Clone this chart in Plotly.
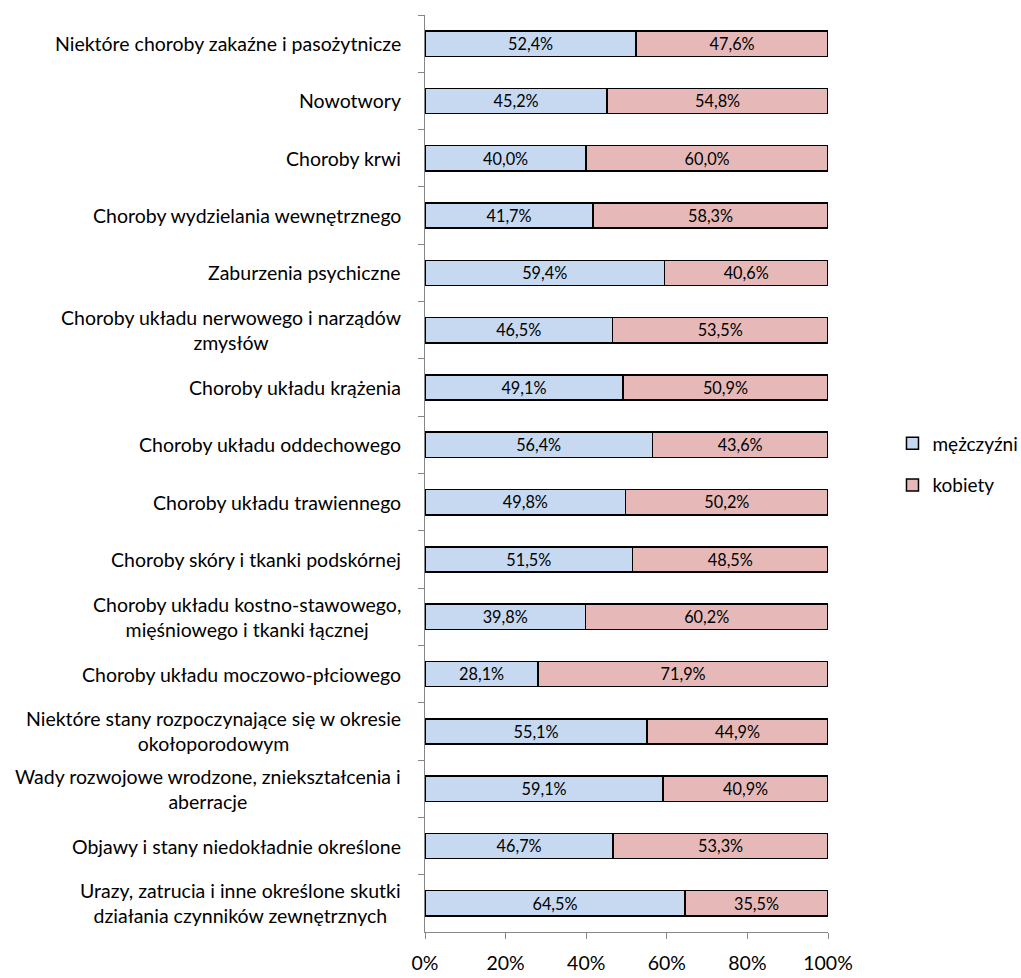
import plotly.graph_objects as go

categories = [
    "Niektóre choroby zakaźne i pasożytnicze",
    "Nowotwory",
    "Choroby krwi",
    "Choroby wydzielania wewnętrznego",
    "Zaburzenia psychiczne",
    "Choroby układu nerwowego i narządów<br>zmysłów",
    "Choroby układu krążenia",
    "Choroby układu oddechowego",
    "Choroby układu trawiennego",
    "Choroby skóry i tkanki podskórnej",
    "Choroby układu kostno-stawowego,<br>mięśniowego i tkanki łącznej",
    "Choroby układu moczowo-płciowego",
    "Niektóre stany rozpoczynające się w okresie<br>okołoporodowym",
    "Wady rozwojowe wrodzone, zniekształcenia i<br>aberracje",
    "Objawy i stany niedokładnie określone",
    "Urazy, zatrucia i inne określone skutki<br>działania czynników zewnętrznych",
]
men = [52.4, 45.2, 40.0, 41.7, 59.4, 46.5, 49.1, 56.4, 49.8, 51.5, 39.8, 28.1, 55.1, 59.1, 46.7, 64.5]
women = [47.6, 54.8, 60.0, 58.3, 40.6, 53.5, 50.9, 43.6, 50.2, 48.5, 60.2, 71.9, 44.9, 40.9, 53.3, 35.5]
x_ticks = [0, 20, 40, 60, 80, 100]
x_tick_labels = ["0%", "20%", "40%", "60%", "80%", "100%"]

FONT = "Lato, 'Open Sans', sans-serif"
FS = 19.5

fig = go.Figure()
fig.add_trace(go.Bar(
    y=categories, x=men, orientation="h", name="mężczyźni", legendgroup="m",
    marker=dict(color="#C6D9F1", line=dict(color="#000000", width=1.5)),
    texttemplate="%{x:.1f}%", textposition="inside", insidetextanchor="middle",
    textfont=dict(size=FS, color="#000000", family=FONT), textangle=0,
))
fig.add_trace(go.Bar(
    y=categories, x=women, orientation="h", name="kobiety", legendgroup="k",
    marker=dict(color="#E6B9B8", line=dict(color="#000000", width=1.5)),
    texttemplate="%{x:.1f}%", textposition="inside", insidetextanchor="middle",
    textfont=dict(size=FS, color="#000000", family=FONT), textangle=0,
))

for c in categories:
    fig.add_annotation(
        x=0, xref="paper", y=c, yref="y", text=c, showarrow=False,
        xanchor="right", yanchor="middle", align="center", xshift=-22,
        font=dict(size=FS, color="#000000", family=FONT),
    )

fig.update_layout(
    barmode="stack",
    bargap=0.56,
    separators=", ",
    width=1021, height=978,
    margin=dict(l=425, r=193, t=15, b=46, autoexpand=False),
    plot_bgcolor="white", paper_bgcolor="white",
    font=dict(family=FONT, size=FS, color="#000000"),
    showlegend=True,
    legend=dict(
        x=1.16, y=0.51, xanchor="left", yanchor="middle",
        font=dict(size=19, color="#000000", family=FONT),
        traceorder="grouped", tracegroupgap=14,
    ),
    xaxis=dict(
        range=[0, 100], tickvals=x_ticks, ticktext=x_tick_labels,
        showgrid=False, zeroline=False,
        showline=True, linecolor="#868686", linewidth=1,
        ticks="outside", ticklen=6, tickcolor="#868686",
        ticklabelstandoff=8,
        tickfont=dict(size=FS, color="#000000", family=FONT),
    ),
    yaxis=dict(
        autorange="reversed", showticklabels=False,
        showgrid=False, zeroline=False,
        showline=True, linecolor="#868686", linewidth=1,
        ticks="outside", ticklen=6, tickcolor="#868686", tickson="boundaries",
    ),
)

fig.write_html(
    "out.html",
    config={"displayModeBar": False},
    post_script="document.body.style.margin='0';document.body.style.overflow='hidden';",
)
